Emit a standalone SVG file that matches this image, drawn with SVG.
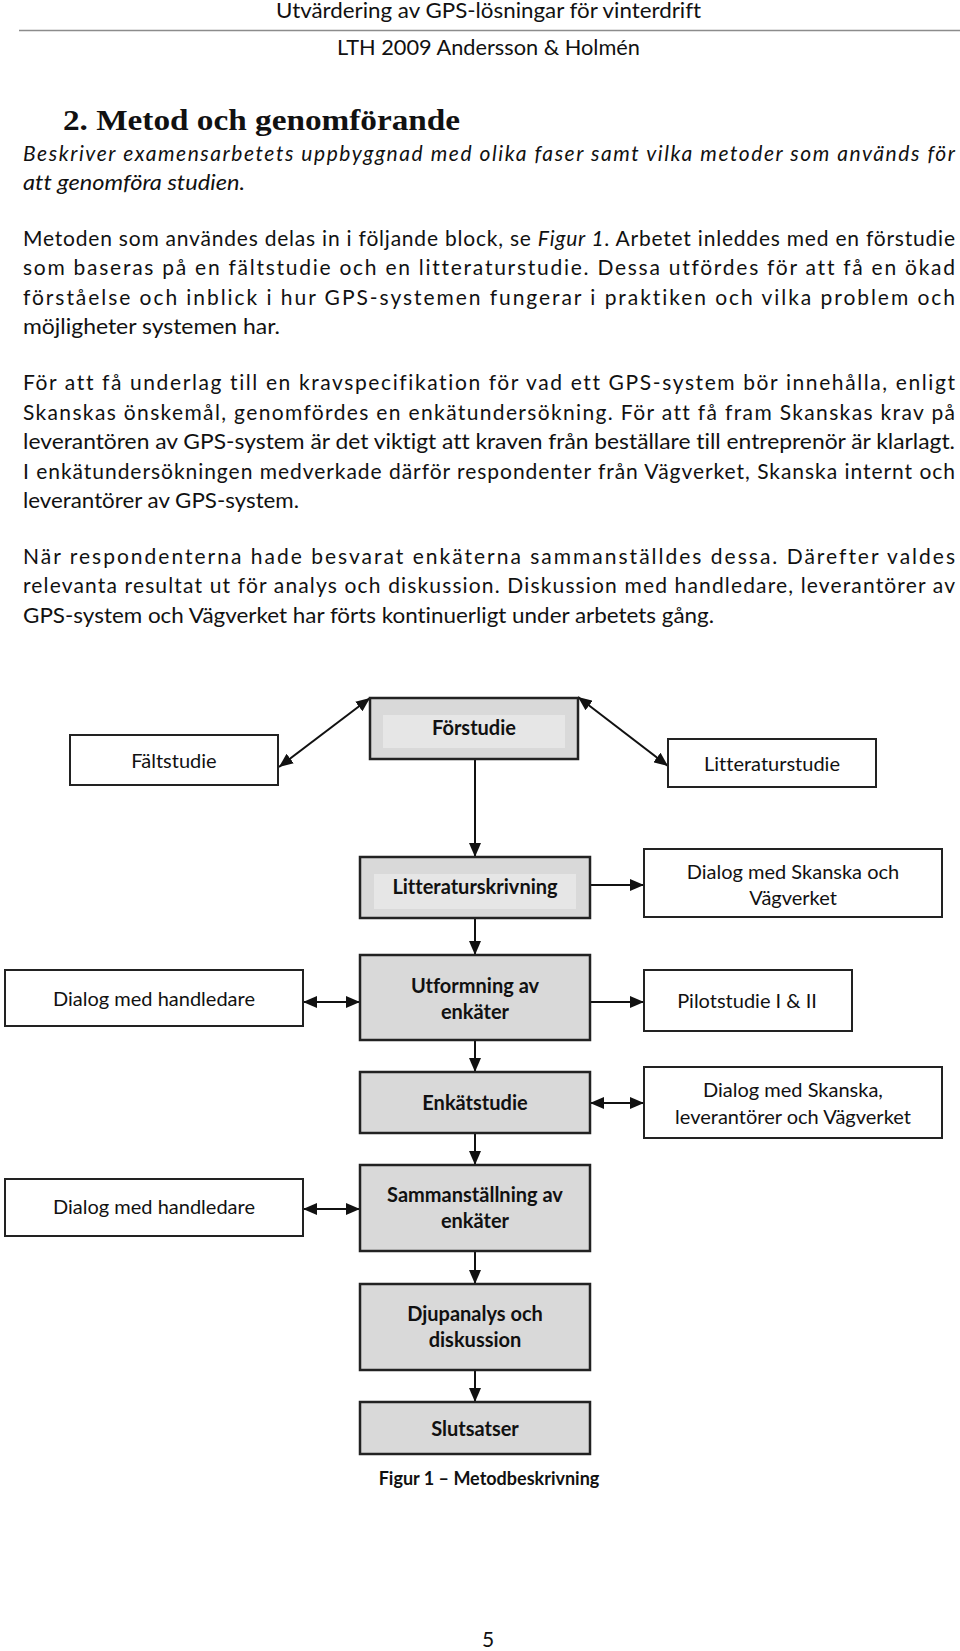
<svg xmlns="http://www.w3.org/2000/svg" width="960" height="1651" viewBox="0 0 960 1651">
<style>
text{font-variant-ligatures:none}
.body{font-family:Lato,"Open Sans","Liberation Sans",sans-serif;font-size:21px;fill:#111}
.it{font-style:italic}
.head{font-family:"Liberation Serif","DejaVu Serif",serif;font-weight:bold;font-size:30px;fill:#111}
.lbl{font-family:Lato,"Open Sans","Liberation Sans",sans-serif;font-size:20px;fill:#111;text-anchor:middle}
.b{font-weight:bold}
.cap{font-size:18px}
.pg{font-size:21px}
.gray{fill:#d9d9d9;stroke:#222;stroke-width:2.5}
.inner{fill:#e6e6e6;stroke:none}
.white{fill:#fff;stroke:#222;stroke-width:2}
.con{stroke:#111;stroke-width:2;fill:none}
</style>
<defs>
<marker id="ah" markerUnits="userSpaceOnUse" markerWidth="14" markerHeight="12" refX="14" refY="6" orient="auto-start-reverse" viewBox="0 0 14 12">
<path d="M0,0 L14,6 L0,12 z" fill="#111"/>
</marker>
</defs>
<rect width="960" height="1651" fill="#fff"/>
<g id="page-text">
<text class="body" x="276" y="18" textLength="425" lengthAdjust="spacingAndGlyphs">Utvärdering av GPS-lösningar för vinterdrift</text>
<line x1="19" y1="30.5" x2="960" y2="30.5" stroke="#8c8c8c" stroke-width="1.5"/>
<text class="body" x="337" y="55" textLength="303" lengthAdjust="spacingAndGlyphs">LTH 2009 Andersson &amp; Holmén</text>
<text class="head" x="63" y="130" textLength="397" lengthAdjust="spacingAndGlyphs">2.  Metod och genomförande</text>
<text class="body it" x="23" y="161" textLength="932" lengthAdjust="spacing">Beskriver examensarbetets uppbyggnad med olika faser samt vilka metoder som används för</text>
<text class="body it" x="23" y="190" textLength="222" lengthAdjust="spacingAndGlyphs">att genomföra studien.</text>
<text class="body" x="23" y="246" textLength="932" lengthAdjust="spacing">Metoden som användes delas in i följande block, se <tspan class="it">Figur 1</tspan>. Arbetet inleddes med en förstudie</text>
<text class="body" x="23" y="275" textLength="932" lengthAdjust="spacing">som baseras på en fältstudie och en litteraturstudie. Dessa utfördes för att få en ökad</text>
<text class="body" x="23" y="305" textLength="932" lengthAdjust="spacing">förståelse och inblick i hur GPS-systemen fungerar i praktiken och vilka problem och</text>
<text class="body" x="23" y="334" textLength="257" lengthAdjust="spacingAndGlyphs">möjligheter systemen har.</text>
<text class="body" x="23" y="390" textLength="932" lengthAdjust="spacing">För att få underlag till en kravspecifikation för vad ett GPS-system bör innehålla, enligt</text>
<text class="body" x="23" y="420" textLength="932" lengthAdjust="spacing">Skanskas önskemål, genomfördes en enkätundersökning. För att få fram Skanskas krav på</text>
<text class="body" x="23" y="449" textLength="932" lengthAdjust="spacingAndGlyphs">leverantören av GPS-system är det viktigt att kraven från beställare till entreprenör är klarlagt.</text>
<text class="body" x="23" y="479" textLength="932" lengthAdjust="spacing">I enkätundersökningen medverkade därför respondenter från Vägverket, Skanska internt och</text>
<text class="body" x="23" y="508" textLength="276" lengthAdjust="spacingAndGlyphs">leverantörer av GPS-system.</text>
<text class="body" x="23" y="564" textLength="932" lengthAdjust="spacing">När respondenterna hade besvarat enkäterna sammanställdes dessa. Därefter valdes</text>
<text class="body" x="23" y="593" textLength="932" lengthAdjust="spacing">relevanta resultat ut för analys och diskussion. Diskussion med handledare, leverantörer av</text>
<text class="body" x="23" y="623" textLength="691" lengthAdjust="spacingAndGlyphs">GPS-system och Vägverket har förts kontinuerligt under arbetets gång.</text>
</g>
<g id="connectors">
<line class="con" x1="279" y1="767" x2="370" y2="698" marker-start="url(#ah)" marker-end="url(#ah)"/>
<line class="con" x1="578" y1="697" x2="668" y2="766" marker-start="url(#ah)" marker-end="url(#ah)"/>
<line class="con" x1="475" y1="759" x2="475" y2="857" marker-end="url(#ah)"/>
<line class="con" x1="590" y1="885" x2="644" y2="885" marker-end="url(#ah)"/>
<line class="con" x1="475" y1="918" x2="475" y2="955" marker-end="url(#ah)"/>
<line class="con" x1="303" y1="1002" x2="360" y2="1002" marker-start="url(#ah)" marker-end="url(#ah)"/>
<line class="con" x1="590" y1="1002" x2="644" y2="1002" marker-end="url(#ah)"/>
<line class="con" x1="475" y1="1040" x2="475" y2="1072" marker-end="url(#ah)"/>
<line class="con" x1="590" y1="1103" x2="644" y2="1103" marker-start="url(#ah)" marker-end="url(#ah)"/>
<line class="con" x1="475" y1="1133" x2="475" y2="1165" marker-end="url(#ah)"/>
<line class="con" x1="303" y1="1209" x2="360" y2="1209" marker-start="url(#ah)" marker-end="url(#ah)"/>
<line class="con" x1="475" y1="1251" x2="475" y2="1284" marker-end="url(#ah)"/>
<line class="con" x1="475" y1="1370" x2="475" y2="1402" marker-end="url(#ah)"/>
</g>
<g id="forstudie">
<rect class="gray" x="370" y="698" width="208" height="61"/>
<rect class="inner" x="383" y="715" width="182" height="33"/>
<text class="lbl b" x="474" y="735">Förstudie</text>
</g>
<g id="faltstudie">
<rect class="white" x="70" y="735" width="208" height="50"/>
<text class="lbl" x="174" y="768">Fältstudie</text>
</g>
<g id="litteraturstudie">
<rect class="white" x="668" y="739" width="208" height="48"/>
<text class="lbl" x="772" y="771">Litteraturstudie</text>
</g>
<g id="litteraturskrivning">
<rect class="gray" x="360" y="857" width="230" height="61"/>
<rect class="inner" x="374" y="874" width="202" height="35"/>
<text class="lbl b" x="475" y="894">Litteraturskrivning</text>
</g>
<g id="dialog-skanska-vagverket">
<rect class="white" x="644" y="849" width="298" height="68"/>
<text class="lbl" x="793" y="879">Dialog med Skanska och</text>
<text class="lbl" x="793" y="905">Vägverket</text>
</g>
<g id="utformning">
<rect class="gray" x="360" y="955" width="230" height="85"/>
<text class="lbl b" x="475" y="993">Utformning av</text>
<text class="lbl b" x="475" y="1019">enkäter</text>
</g>
<g id="dialog-handledare-1">
<rect class="white" x="5" y="970" width="298" height="56"/>
<text class="lbl" x="154" y="1006">Dialog med handledare</text>
</g>
<g id="pilotstudie">
<rect class="white" x="644" y="970" width="208" height="61"/>
<text class="lbl" x="747" y="1008">Pilotstudie I &amp; II</text>
</g>
<g id="enkatstudie">
<rect class="gray" x="360" y="1072" width="230" height="61"/>
<text class="lbl b" x="475" y="1110">Enkätstudie</text>
</g>
<g id="dialog-skanska-leverantorer">
<rect class="white" x="644" y="1067" width="298" height="71"/>
<text class="lbl" x="793" y="1097">Dialog med Skanska,</text>
<text class="lbl" x="793" y="1124">leverantörer och Vägverket</text>
</g>
<g id="sammanstallning">
<rect class="gray" x="360" y="1165" width="230" height="86"/>
<text class="lbl b" x="475" y="1202">Sammanställning av</text>
<text class="lbl b" x="475" y="1228">enkäter</text>
</g>
<g id="dialog-handledare-2">
<rect class="white" x="5" y="1179" width="298" height="57"/>
<text class="lbl" x="154" y="1214">Dialog med handledare</text>
</g>
<g id="djupanalys">
<rect class="gray" x="360" y="1284" width="230" height="86"/>
<text class="lbl b" x="475" y="1321">Djupanalys och</text>
<text class="lbl b" x="475" y="1347">diskussion</text>
</g>
<g id="slutsatser">
<rect class="gray" x="360" y="1402" width="230" height="52"/>
<text class="lbl b" x="475" y="1436">Slutsatser</text>
</g>
<g id="caption">
<text class="lbl b cap" x="489" y="1485">Figur 1 – Metodbeskrivning</text>
<text class="lbl pg" x="488" y="1647">5</text>
</g>
</svg>
